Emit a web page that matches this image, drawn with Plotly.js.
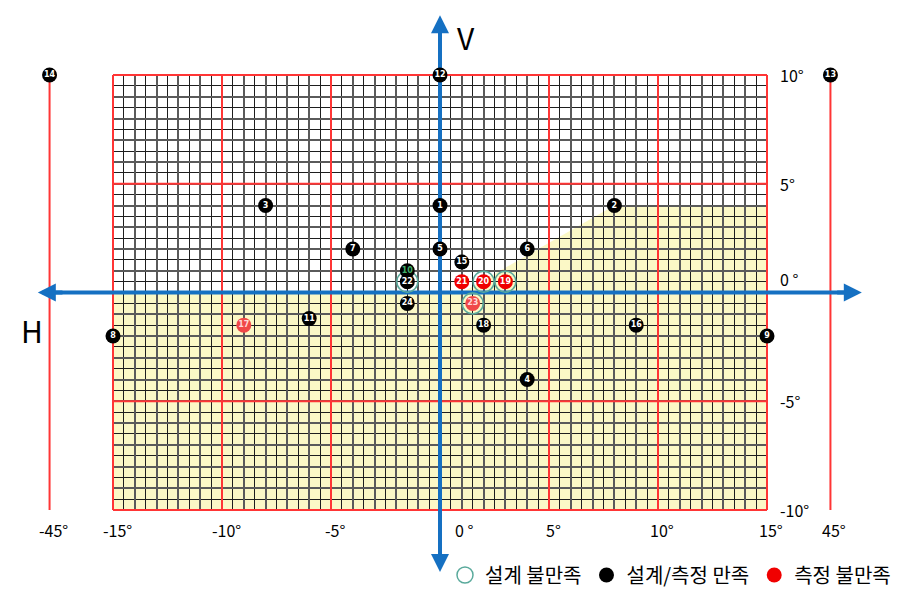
<!DOCTYPE html>
<html>
<head>
<meta charset="utf-8">
<script src="https://cdn.plot.ly/plotly-3.0.1.min.js"></script>
<style>html,body{margin:0;padding:0;background:#fff;}#chart{width:911px;height:598px;}</style>
</head>
<body>
<div id="chart"></div>
<script>
// ---------------- data ----------------
const pointNo    = [1, 2, 3, 4, 5, 6, 7, 8, 9, 10, 11, 12, 13, 14, 15, 16, 17, 18, 19, 20, 21, 22, 23, 24];
const pointH     = [0, 8, -8, 4, 0, 4, -4, -15, 15, -1.5, -6, 0, 45, -45, 1, 9, -9, 2, 3, 2, 1, -1.5, 1.5, -1.5];
const pointV     = [4, 4, 4, -4, 2, 2, 2, -2, -2, 1, -1.2, 10, 10, 10, 1.4, -1.5, -1.5, -1.5, 0.5, 0.5, 0.5, 0.5, -0.5, -0.5];
// measurement result: ok = black, ng = red, ngLight = pale red
const pointGroup = ['ok','ok','ok','ok','ok','ok','ok','ok','ok','ok','ok','ok','ok','ok','ok','ok','ngLight','ok','ng','ng','ng','ok','ngLight','ok'];
// design not satisfied (teal ring)
const designFailNo = [19, 20, 22, 23];
const greenLabelNo = [10];

// yellow region (H, V vertices)
const yellowH = [-15, 15, 15, 8, 1, -15];
const yellowV = [-10, -10, 4, 4, 0, 0];

// grid / ticks
const gridH = [-15, 15];
const gridV = [-10, 10];
const redLinesH = [-15, -10, -5, 0, 5, 10, 15];
const redLinesV = [-10, -5, 0, 5, 10];
const outerLinesH = [-45, 45];
const hTickVals = [-45, -15, -10, -5, 0, 5, 10, 15, 45];
const hTickText = ['-45°', '-15°', '-10°', '-5°', '0 °', '5°', '10°', '15°', '45°'];
const vTickVals = [10, 5, 0, -5, -10];
const vTickText = ['10°', '5°', '0 °', '-5°', '-10°'];
const legendNames = ['설계 불만족', '설계/측정 만족', '측정 불만족'];

// ---------------- scale helpers ----------------
const OUT_COMPRESS = 0.097;   // angles beyond ±15° are drawn compressed
function hPos(h) {
  const a = Math.abs(h);
  return a <= 15 ? h : Math.sign(h) * (15 + (a - 15) * OUT_COMPRESS);
}

const W = 911, H = 598;
const PX_PER_DEG_X = 21.8, PX_PER_DEG_Y = 21.75;
const X0 = 440, Y0 = 292.5;
const x2Range = [-X0 / PX_PER_DEG_X, (W - X0) / PX_PER_DEG_X];
const y2Range = [-(H - Y0) / PX_PER_DEG_Y, Y0 / PX_PER_DEG_Y];
const gridDomX = [(X0 + gridH[0] * PX_PER_DEG_X) / W, (X0 + gridH[1] * PX_PER_DEG_X) / W];
const gridDomY = [1 - (Y0 - gridV[0] * PX_PER_DEG_Y) / H, 1 - (Y0 - gridV[1] * PX_PER_DEG_Y) / H];

const FONT = '"Noto Sans CJK KR", "DejaVu Sans", sans-serif';
const RED = '#ff3535';
const BLUE = '#1570c2';
const TEAL = '#5aaa9c';

function pick(arr, idx) { return idx.map(i => arr[i]); }
function idxWhere(fn) { return pointNo.map((n, i) => i).filter(fn); }

const okIdx = idxWhere(i => pointGroup[i] === 'ok');
const ngIdx = idxWhere(i => pointGroup[i] === 'ng');
const ngLIdx = idxWhere(i => pointGroup[i] === 'ngLight');
const ringIdx = idxWhere(i => designFailNo.includes(pointNo[i]));

function numberTrace(idx, color, name, showlegend, textCol) {
  return {
    type: 'scatter', mode: 'markers+text', xaxis: 'x2', yaxis: 'y2',
    x: pick(pointH, idx).map(hPos), y: pick(pointV, idx),
    text: pick(pointNo, idx).map(String),
    textposition: 'middle center',
    textfont: {family: '"DejaVu Sans", sans-serif', size: 8, weight: 'bold',
      color: idx.map(i => greenLabelNo.includes(pointNo[i]) ? '#3fae6a' : textCol)},
    marker: {size: 15, color: color, line: {width: 0}},
    name: name, showlegend: showlegend, cliponaxis: false, hoverinfo: 'skip'
  };
}

const traces = [
  // invisible trace that keeps the grid subplot alive
  {type: 'scatter', mode: 'none', x: [gridH[0]], y: [gridV[0]], xaxis: 'x', yaxis: 'y',
    showlegend: false, hoverinfo: 'skip'},
  {
    type: 'scatter', mode: 'markers', xaxis: 'x2', yaxis: 'y2',
    x: pick(pointH, ringIdx).map(hPos), y: pick(pointV, ringIdx),
    marker: {symbol: 'circle-open', size: 21, color: TEAL, line: {width: 1.5, color: TEAL}},
    name: legendNames[0], cliponaxis: false, hoverinfo: 'skip'
  },
  numberTrace(okIdx, '#000000', legendNames[1], true, '#ffffff'),
  numberTrace(ngIdx, '#f00000', legendNames[2], true, '#ffffff'),
  numberTrace(ngLIdx, '#f04848', legendNames[2], false, '#ffd8d8')
];

// ---------------- shapes ----------------
const shapes = [];
let path = '';
yellowH.forEach((h, i) => { path += (i === 0 ? 'M' : 'L') + h + ',' + yellowV[i]; });
path += 'Z';
shapes.push({type: 'path', path: path, xref: 'x', yref: 'y', layer: 'below',
  fillcolor: '#fbf8c6', line: {width: 0}});
redLinesH.forEach(h => shapes.push({type: 'line', xref: 'x2', yref: 'y2', layer: 'between',
  x0: h, x1: h, y0: gridV[0], y1: gridV[1], line: {color: RED, width: 2}}));
redLinesV.forEach(v => shapes.push({type: 'line', xref: 'x2', yref: 'y2', layer: 'between',
  x0: gridH[0], x1: gridH[1], y0: v, y1: v, line: {color: RED, width: 2}}));
outerLinesH.forEach(h => shapes.push({type: 'line', xref: 'x2', yref: 'y2', layer: 'between',
  x0: hPos(h), x1: hPos(h), y0: gridV[0], y1: gridV[1], line: {color: RED, width: 2}}));

// blue axis lines (below points), arrowheads added as annotations
const AX_H = [-18.45, 19.35], AX_V = [-12.85, 12.75];
shapes.push({type: 'line', xref: 'x2', yref: 'y2', layer: 'between',
  x0: AX_H[0] + 0.3, x1: AX_H[1] - 0.3, y0: 0, y1: 0, line: {color: BLUE, width: 4}});
shapes.push({type: 'line', xref: 'x2', yref: 'y2', layer: 'between',
  x0: 0, x1: 0, y0: AX_V[0] + 0.3, y1: AX_V[1] - 0.3, line: {color: BLUE, width: 4}});

// ---------------- annotations ----------------
const annotations = [];
function head(x, y, ax, ay) {
  annotations.push({xref: 'x2', yref: 'y2', axref: 'x2', ayref: 'y2', x: x, y: y, ax: ax, ay: ay,
    text: '', showarrow: true, arrowhead: 2, arrowsize: 0.9, arrowwidth: 4, arrowcolor: BLUE});
}
head(AX_H[1], 0, AX_H[1] - 1.2, 0);
head(AX_H[0], 0, AX_H[0] + 1.2, 0);
head(0, AX_V[1], 0, AX_V[1] - 1.2);
head(0, AX_V[0], 0, AX_V[0] + 1.2);
// V / H
annotations.push({xref: 'paper', yref: 'paper', x: 466 / W, y: 1 - 37 / H, xanchor: 'center', yanchor: 'middle',
  text: 'V', showarrow: false, font: {family: FONT, size: 30, color: '#000'}});
annotations.push({xref: 'paper', yref: 'paper', x: 32 / W, y: 1 - 330 / H, xanchor: 'center', yanchor: 'middle',
  text: 'H', showarrow: false, font: {family: FONT, size: 30, color: '#000'}});
// H tick labels
hTickVals.forEach((h, i) => annotations.push({xref: 'x2', yref: 'paper', x: hPos(h), y: 1 - 530 / H,
  xanchor: 'center', yanchor: 'middle',
  text: hTickText[i], showarrow: false, xshift: h === 0 ? 24 : 4,
  font: {family: FONT, size: 16, color: '#000'}}));
// V tick labels
vTickVals.forEach((v, i) => annotations.push({xref: 'paper', yref: 'y', x: 778 / W, y: v,
  xanchor: 'left', yanchor: 'middle',
  text: vTickText[i], showarrow: false, yshift: v === 0 ? 14 : 0,
  font: {family: FONT, size: 16, color: '#000'}}));

const layout = {
  width: W, height: H, margin: {l: 0, r: 0, t: 0, b: 0},
  paper_bgcolor: '#ffffff', plot_bgcolor: 'rgba(0,0,0,0)',
  font: {family: FONT},
  xaxis: {domain: gridDomX, range: gridH, anchor: 'y', dtick: 1, tick0: 0,
    showgrid: true, gridcolor: '#5a5a5a', gridwidth: 2,
    minor: {dtick: 0.5, showgrid: true, gridcolor: '#1e1e1e', gridwidth: 1},
    showticklabels: false, ticks: '', zeroline: false, showline: false, fixedrange: true},
  yaxis: {domain: gridDomY, range: gridV, anchor: 'x', dtick: 1, tick0: 0,
    showgrid: true, gridcolor: '#5a5a5a', gridwidth: 2,
    minor: {dtick: 0.5, showgrid: true, gridcolor: '#1e1e1e', gridwidth: 1},
    showticklabels: false, ticks: '', zeroline: false, showline: false, fixedrange: true},
  xaxis2: {domain: [0, 1], range: x2Range, anchor: 'y2', visible: false, fixedrange: true},
  yaxis2: {domain: [0, 1], range: y2Range, anchor: 'x2', visible: false, fixedrange: true},
  shapes: shapes,
  annotations: annotations,
  showlegend: true,
  legend: {orientation: 'h', x: 445 / W, y: 1 - 575 / H, xanchor: 'left', yanchor: 'middle',
    bgcolor: 'rgba(0,0,0,0)', font: {family: FONT, size: 20, color: '#000'},
    itemwidth: 30, traceorder: 'normal', itemclick: false}
};

Plotly.newPlot('chart', traces, layout, {displayModeBar: false, staticPlot: true});
</script>
</body>
</html>
